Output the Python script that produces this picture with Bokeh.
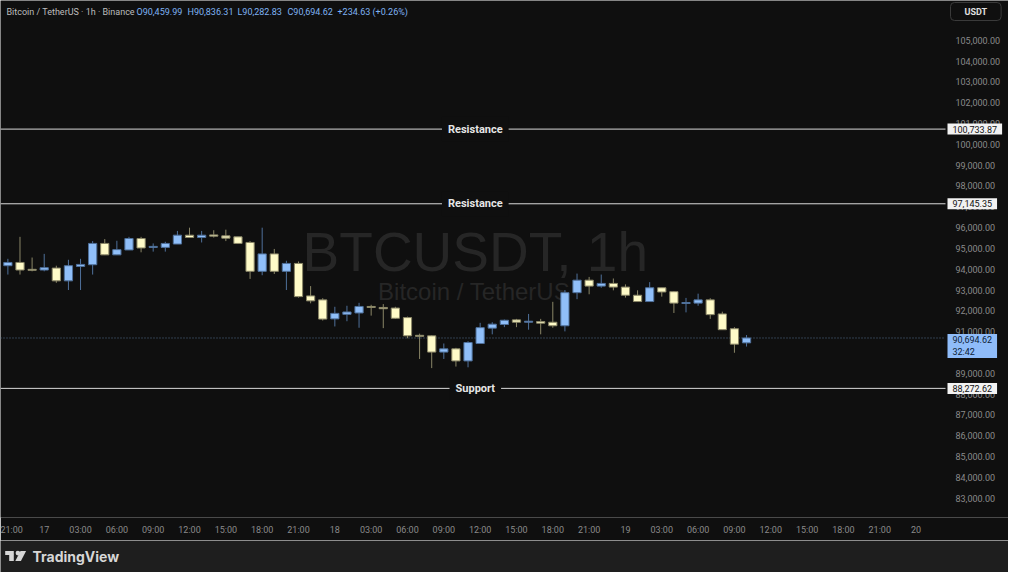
from bokeh.plotting import figure
from bokeh.models import ColumnDataSource, Range1d, FixedTicker, NumeralTickFormatter, Label
from bokeh.layouts import column
from bokeh.embed import file_html
from bokeh.resources import INLINE
from bokeh.core.properties import value

# ---------------- data (hours since 17th 00:00) ----------------
hours = list(range(-3, 59))
opens = [94169, 94325, 93994, 93961, 94055, 93440, 94136, 94216, 95239, 94690,
         94926, 95475, 95049, 95049, 95210, 95636, 95523, 95650, 95603, 95556,
         95286, 93899, 94737, 93899, 94278, 92716, 92527, 91613, 91831, 91897,
         92210, 92162, 92134, 91675, 90823, 90799, 90018, 90174, 89592, 90430,
         91168, 91343, 91566, 91452, 91485, 91452, 91282, 92872, 93473, 93189,
         93317, 93142, 92749, 92446, 93109, 92920, 92352, 92371, 92527, 91850,
         91140, 90459.99]
highs = [94500, 95556, 94562, 94737, 94169, 94453, 94500, 95352, 95447, 95367,
         95556, 95556, 95239, 95319, 95840, 95996, 95840, 95873, 95901, 95556,
         95352, 95996, 94974, 94406, 94373, 93189, 92607, 92195, 92243, 92385,
         92290, 92323, 92195, 91722, 90903, 90823, 90430, 90222, 90539, 91424,
         91452, 91580, 91613, 91850, 91613, 92432, 93000, 93790, 93629, 93743,
         93554, 93270, 92986, 93379, 93109, 92953, 92621, 92825, 92607, 91959,
         91216, 90836.31]
lows = [93743, 93743, 93899, 93899, 93346, 93000, 93000, 93743, 94680, 94690,
        94926, 94813, 94846, 94846, 95210, 95523, 95286, 95523, 95352, 95210,
        93535, 93710, 93771, 93000, 92636, 92361, 91533, 91249, 91500, 91187,
        91769, 91168, 91613, 90681, 89687, 89247, 89687, 89322, 89285, 90430,
        90870, 91216, 91216, 91093, 90870, 91187, 91012, 92560, 92796, 93109,
        92986, 92636, 92446, 92446, 92683, 91897, 91926, 92243, 91613, 91093,
        89985, 90282.83]
closes = [94325, 93961, 93947, 94074, 93440, 94169, 94231, 95239, 94690, 94941,
          95475, 95021, 95097, 95239, 95636, 95523, 95636, 95589, 95494, 95239,
          93899, 94737, 93899, 94278, 92683, 92479, 91604, 91878, 91945, 92210,
          92162, 92101, 91642, 90799, 90775, 90018, 90174, 89592, 90477, 91192,
          91358, 91547, 91452, 91500, 91405, 91282, 92872, 93473, 93189, 93317,
          93142, 92749, 92446, 93109, 92905, 92371, 92399, 92527, 91817, 91093,
          90397, 90694.62]

x_tick_hours = [-3, 0, 3, 6, 9, 12, 15, 18, 21, 24, 27, 30, 33, 36, 39, 42, 45,
                48, 51, 54, 57, 60, 63, 66, 69, 72]
x_tick_labels = ["21:00", "17", "03:00", "06:00", "09:00", "12:00", "15:00", "18:00", "21:00",
                 "18", "03:00", "06:00", "09:00", "12:00", "15:00", "18:00", "21:00",
                 "19", "03:00", "06:00", "09:00", "12:00", "15:00", "18:00", "21:00", "20"]
y_ticks = [83000, 84000, 85000, 86000, 87000, 88000, 89000, 90000, 91000, 92000, 93000,
           94000, 95000, 96000, 97000, 98000, 99000, 100000, 101000, 102000, 103000,
           104000, 105000]

level_prices = [100733.87, 97145.35, 88272.62]
level_names = ["Resistance", "Resistance", "Support"]
level_tags = ["100,733.87", "97,145.35", "88,272.62"]
level_label_hour = 35.6

last_price = 90694.62
last_tag = "90,694.62\n32:42"
legend_parts = ["Bitcoin / TetherUS · 1h · Binance", "O90,459.99", "H90,836.31",
                "L90,282.83", "C90,694.62", "+234.63 (+0.26%)"]

# ---------------- styles ----------------
BG = "#0f0f0f"
BAR_BG = "#1e1e1e"
UP_FILL, UP_LINE = "#90bff9", "#4f709a"
DN_FILL, DN_LINE = "#fffbc8", "#8a8667"
AXIS_TXT = "#8a8a8a"
UI_FONT = "Roboto"

W, H = 1008, 540
PANE_PX = 945                      # pixel where the price scale starts
X0, X1 = -3.61, 74.43              # hours shown in the chart pane
XF = X0 + W * (X1 - X0) / PANE_PX  # frame also spans the price-scale pane
Y0, Y1 = 82067, 106915

up = [c >= o for o, c in zip(opens, closes)]
src = ColumnDataSource(dict(
    x=hours, o=opens, h=highs, l=lows, c=closes,
    top=[max(o, c) for o, c in zip(opens, closes)],
    bot=[min(o, c) for o, c in zip(opens, closes)],
    fill=[UP_FILL if u else DN_FILL for u in up],
    line=[UP_LINE if u else DN_LINE for u in up],
))

p = figure(width=W, height=H, x_range=Range1d(X0, XF), y_range=Range1d(Y0, Y1),
           y_axis_location="right", output_backend="svg", toolbar_location=None,
           min_border_left=0, min_border_top=0, min_border_right=0, min_border_bottom=23,
           background_fill_color=BG, border_fill_color=BG)
p.outline_line_color = None
p.xgrid.grid_line_color = None
p.ygrid.grid_line_color = None

p.axis.axis_line_color = None
p.axis.major_tick_line_color = None
p.axis.minor_tick_line_color = None
p.axis.major_tick_out = 0
p.axis.major_tick_in = 0
p.axis.major_label_text_color = AXIS_TXT
p.axis.major_label_text_font = UI_FONT
p.axis.major_label_text_font_size = "9px"

p.xaxis.ticker = FixedTicker(ticks=x_tick_hours)
p.xaxis.major_label_overrides = {h: t for h, t in zip(x_tick_hours, x_tick_labels)}
p.xaxis.major_label_standoff = 7
p.yaxis.ticker = FixedTicker(ticks=y_ticks)
p.yaxis.formatter = NumeralTickFormatter(format="0,0.00")
p.yaxis.fixed_location = X1
p.yaxis.major_label_standoff = 10

# watermark
p.add_layout(Label(x=35.6, y=94846, text="BTCUSDT, 1h", text_font="Liberation Sans",
                   text_font_size="55px", text_color="#262626", text_align="center",
                   text_baseline="middle", level="underlay"))
p.add_layout(Label(x=35.5, y=92953, text="Bitcoin / TetherUS", text_font="Liberation Sans",
                   text_font_size="24px", text_color="#262626", text_align="center",
                   text_baseline="middle", level="underlay"))

# current price dotted line
p.segment(x0=[X0], x1=[X1], y0=[last_price], y1=[last_price], line_color="#55708f",
          line_dash="1 2", line_width=1)

# candles
p.segment(x0="x", y0="l", x1="x", y1="h", source=src, line_color="line", line_width=1)
p.vbar(x="x", width=0.68, top="top", bottom="bot", source=src, fill_color="fill",
       line_color="line", line_width=1)

# support / resistance
p.segment(x0=[X0] * 3, x1=[X1] * 3, y0=level_prices, y1=level_prices,
          line_color="#d9d9d9", line_width=1)
for price, name, tag in zip(level_prices, level_names, level_tags):
    p.add_layout(Label(x=level_label_hour, y=price, text=name, text_align="center",
                       text_baseline="middle", text_font=UI_FONT, text_font_style="bold",
                       text_font_size="11px", text_color="#e6e6e6",
                       background_fill_color=BG, padding=6))
    p.add_layout(Label(x=X1, x_offset=2, y=price, text=tag, text_align="left",
                       text_baseline="middle", text_font=UI_FONT, text_font_size="9px",
                       text_color="#111111", background_fill_color="#f2f2f2", padding=(5, 2)))

p.add_layout(Label(x=X1, x_offset=2, y=last_price, y_offset=-8, text=last_tag,
                   text_align="left", text_baseline="middle", text_font=UI_FONT,
                   text_font_size="9px", text_color="#0d1c36",
                   background_fill_color="#8fbcf9", padding=(5, 1)))

# USDT box
p.add_layout(Label(x=X1, x_offset=5, y=Y1, y_offset=-11, text="USDT", text_align="left",
                   text_baseline="middle", text_font=UI_FONT, text_font_style="bold",
                   text_font_size="9px", text_color="#e0e0e0", border_line_color="#3a3a3a",
                   border_radius=4, padding=(14, 4)))

# legend line
leg_x = [6, 136, 187, 237, 287, 337]
leg_col = ["#bdbdbd", "#7fb3f3", "#7fb3f3", "#7fb3f3", "#7fb3f3", "#7fb3f3"]
for xo, t, col in zip(leg_x, legend_parts, leg_col):
    p.add_layout(Label(x=X0, x_offset=xo, y=Y1, y_offset=-11, text=t, text_align="left",
                       text_baseline="middle", text_font=UI_FONT, text_font_size="9px",
                       text_color=col))

# bottom TradingView bar
b = figure(width=W, height=32, x_range=Range1d(0, W), y_range=Range1d(32, 0),
           output_backend="svg", toolbar_location=None, min_border=0,
           background_fill_color=BAR_BG, border_fill_color=BAR_BG)
b.outline_line_color = None
b.axis.visible = False
b.xgrid.grid_line_color = None
b.ygrid.grid_line_color = None
LOGO = "#d6d6d6"
b.quad(left=[4.7, 8.7], right=[13.3, 13.3], top=[10.5, 14.3], bottom=[14.5, 20.5],
       fill_color=LOGO, line_color=None)
b.scatter(x=[17.4], y=[12.6], size=4.6, marker="circle", fill_color=LOGO, line_color=None)
b.patch(x=[20.0, 25.6, 20.4, 14.8], y=[10.5, 10.5, 20.5, 20.5], fill_color=LOGO, line_color=None)
b.text(x=[32], y=[15.5], text=["TradingView"], text_font=value("Inter"),
       text_font_style="bold", text_font_size="14px", text_baseline="middle",
       text_color=LOGO)

layout = column(p, b, spacing=0)
open("out.html", "w").write(file_html(layout, INLINE))
